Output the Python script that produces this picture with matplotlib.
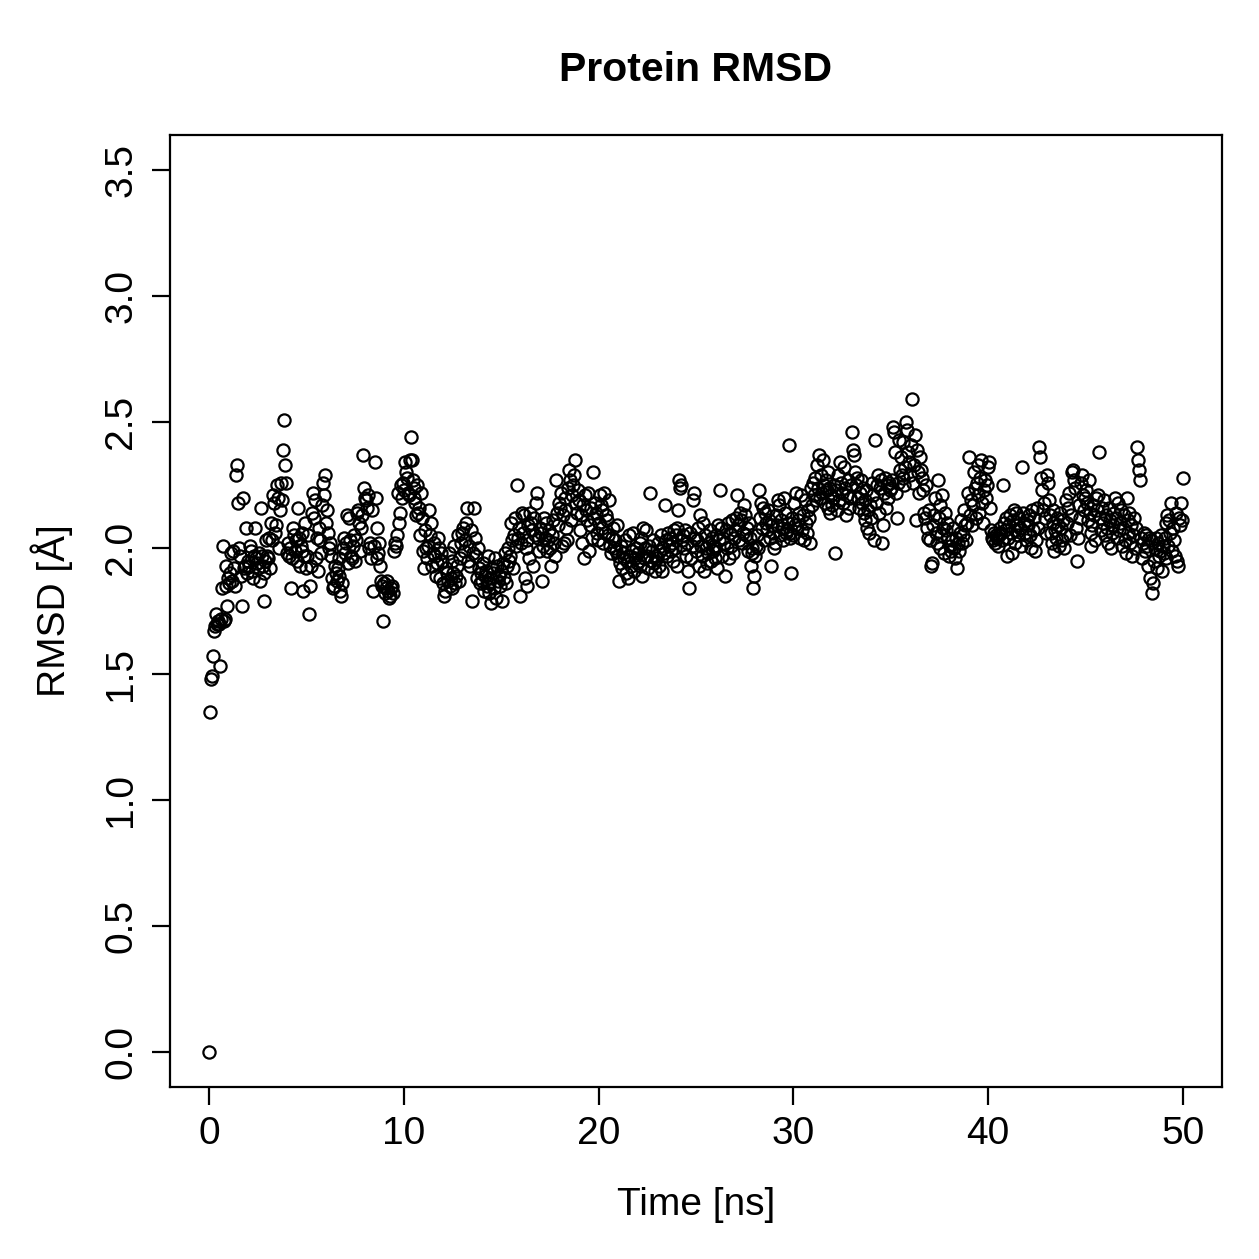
import numpy as np
import matplotlib
matplotlib.use("Agg")
import matplotlib.pyplot as plt

plt.rcParams['font.family'] = ['Liberation Sans', 'DejaVu Sans']

# RMSD values, one row per nanosecond (0.05 ns steps)
rmsd_rows = [
    [0.00, 1.35, 1.48, 1.49, 1.57, 1.67, 1.69, 1.74, 1.70, 1.71, 1.70, 1.53, 1.72, 1.84, 2.01, 1.71, 1.72, 1.93, 1.85, 1.77],
    [1.88, 1.86, 1.90, 1.98, 1.87, 1.99, 1.92, 1.85, 2.29, 2.33, 2.18, 2.00, 1.97, 1.89, 1.77, 2.20, 1.92, 1.93, 2.08, 1.90],
    [1.95, 1.93, 2.01, 1.99, 1.91, 1.88, 1.97, 2.08, 1.96, 1.94, 1.92, 1.98, 1.87, 2.16, 1.97, 1.93, 1.79, 1.90, 1.95, 2.03],
    [1.97, 1.96, 2.04, 1.92, 2.10, 2.03, 2.21, 2.18, 2.06, 2.09, 2.25, 2.20, 2.00, 2.15, 2.26, 2.19, 2.39, 2.51, 2.33, 2.26],
    [1.98, 2.02, 1.97, 2.00, 1.84, 1.96, 2.08, 2.05, 1.99, 2.03, 1.95, 2.16, 2.04, 1.93, 2.01, 2.06, 1.99, 1.83, 1.97, 2.10],
    [1.92, 1.97, 2.05, 1.74, 1.85, 1.93, 2.14, 2.22, 2.12, 2.19, 1.96, 2.04, 1.91, 2.08, 2.03, 1.98, 2.17, 2.26, 2.21, 2.29],
    [2.10, 2.15, 2.06, 2.00, 2.02, 1.97, 1.88, 1.84, 1.85, 1.93, 1.90, 1.87, 1.92, 1.96, 1.89, 1.83, 1.81, 1.86, 2.00, 2.04],
    [1.98, 2.02, 2.13, 1.94, 2.12, 2.03, 1.97, 1.96, 2.01, 2.05, 1.95, 2.03, 2.14, 2.15, 2.10, 1.99, 2.08, 2.13, 2.37, 2.24],
    [2.20, 2.19, 2.16, 2.21, 2.00, 2.02, 1.96, 2.15, 1.83, 2.01, 2.34, 2.20, 2.08, 1.96, 1.98, 2.02, 1.93, 1.87, 1.85, 1.71],
    [1.86, 1.82, 1.84, 1.87, 1.83, 1.80, 1.81, 1.84, 1.85, 1.82, 1.99, 2.02, 2.01, 2.05, 2.22, 2.10, 2.14, 2.25, 2.20, 2.26],
    [2.23, 2.34, 2.30, 2.28, 2.22, 2.21, 2.35, 2.44, 2.35, 2.27, 2.24, 2.20, 2.18, 2.13, 2.25, 2.14, 2.16, 2.05, 2.22, 2.12],
    [1.99, 1.92, 2.07, 2.00, 1.96, 2.01, 2.15, 2.05, 2.10, 1.93, 1.98, 2.02, 1.97, 1.89, 1.94, 2.04, 2.00, 1.88, 1.98, 1.95],
    [1.86, 1.81, 1.83, 1.92, 1.90, 1.87, 1.98, 1.85, 1.88, 1.95, 1.84, 1.90, 2.01, 1.86, 1.89, 1.93, 2.05, 1.87, 1.96, 2.02],
    [2.06, 2.08, 1.99, 2.03, 2.10, 2.16, 1.95, 2.01, 1.93, 2.07, 1.79, 1.98, 2.16, 2.04, 1.97, 1.88, 2.00, 1.92, 1.86, 1.90],
    [1.87, 1.94, 1.83, 1.89, 1.91, 1.85, 1.97, 1.82, 1.86, 1.88, 1.78, 1.92, 1.90, 1.84, 1.96, 1.80, 1.93, 1.87, 1.89, 1.85],
    [1.91, 1.79, 1.94, 1.88, 1.98, 1.86, 1.93, 2.00, 1.95, 1.97, 2.10, 2.03, 1.92, 2.05, 2.12, 2.01, 2.25, 2.04, 2.08, 1.81],
    [2.02, 2.14, 2.06, 2.13, 1.88, 2.00, 1.85, 2.03, 2.09, 1.96, 2.14, 2.10, 2.07, 1.93, 2.12, 2.05, 2.18, 2.22, 2.04, 1.99],
    [2.08, 2.06, 1.87, 2.01, 2.12, 2.04, 2.10, 1.99, 2.03, 2.07, 2.00, 1.93, 2.05, 2.11, 2.02, 1.97, 2.27, 2.14, 2.09, 2.18],
    [2.16, 2.22, 2.01, 2.13, 2.02, 2.20, 2.15, 2.08, 2.03, 2.24, 2.31, 2.27, 2.11, 2.21, 2.25, 2.29, 2.35, 2.18, 2.14, 2.23],
    [2.19, 2.07, 2.13, 2.02, 2.17, 1.96, 2.21, 2.15, 2.11, 2.22, 1.99, 2.09, 2.16, 2.04, 2.30, 2.12, 2.18, 2.14, 2.06, 2.03],
    [2.10, 2.21, 2.17, 2.08, 2.15, 2.02, 2.22, 2.06, 2.13, 2.11, 2.05, 2.19, 2.01, 1.98, 2.04, 2.08, 2.00, 2.03, 1.99, 2.09],
    [1.97, 1.87, 1.94, 2.01, 1.92, 1.98, 1.96, 2.03, 1.90, 1.95, 1.88, 2.05, 1.97, 1.93, 1.99, 2.06, 1.91, 1.96, 2.00, 1.94],
    [1.98, 1.95, 2.02, 1.93, 2.04, 1.89, 2.08, 1.96, 2.00, 2.07, 1.97, 1.92, 2.01, 2.22, 1.95, 1.99, 2.03, 1.94, 1.91, 1.97],
    [1.96, 2.02, 1.93, 1.99, 2.05, 1.91, 2.00, 1.98, 2.17, 2.03, 1.97, 2.06, 2.01, 2.04, 1.99, 2.02, 1.95, 2.07, 2.00, 2.05],
    [2.08, 1.93, 2.15, 2.27, 2.24, 2.25, 2.03, 2.05, 2.00, 2.07, 1.97, 2.02, 1.91, 1.84, 2.06, 1.96, 2.01, 2.19, 2.22, 2.04],
    [1.99, 2.03, 2.08, 1.93, 2.13, 2.01, 1.97, 2.10, 1.91, 2.05, 2.00, 1.94, 1.98, 2.02, 2.07, 1.95, 2.04, 1.99, 2.01, 1.96],
    [2.00, 2.05, 1.92, 2.09, 2.03, 2.23, 2.08, 1.97, 2.04, 2.02, 1.89, 2.07, 2.00, 2.10, 1.96, 2.06, 2.01, 2.11, 1.98, 2.04],
    [2.07, 2.12, 2.21, 2.09, 2.03, 2.14, 2.11, 2.02, 2.06, 2.17, 2.13, 2.05, 2.08, 1.99, 2.10, 2.04, 1.93, 2.00, 1.98, 1.84],
    [1.89, 1.97, 2.01, 2.05, 2.00, 2.23, 2.12, 2.18, 2.08, 2.16, 2.03, 2.14, 2.10, 2.07, 2.15, 2.11, 2.04, 1.93, 2.09, 2.06],
    [2.00, 2.02, 2.13, 2.09, 2.19, 2.17, 2.05, 2.11, 2.08, 2.03, 2.20, 2.14, 2.06, 2.07, 2.10, 2.41, 2.06, 2.04, 1.90, 2.12],
    [2.05, 2.18, 2.09, 2.22, 2.08, 2.11, 2.14, 2.04, 2.21, 2.07, 2.13, 2.03, 2.19, 2.10, 2.06, 2.15, 2.12, 2.02, 2.24, 2.17],
    [2.26, 2.21, 2.28, 2.19, 2.33, 2.24, 2.37, 2.20, 2.29, 2.22, 2.35, 2.25, 2.18, 2.27, 2.23, 2.16, 2.30, 2.24, 2.14, 2.21],
    [2.17, 2.20, 2.25, 1.98, 2.23, 2.15, 2.29, 2.19, 2.34, 2.26, 2.22, 2.18, 2.32, 2.24, 2.13, 2.21, 2.27, 2.16, 2.20, 2.25],
    [2.46, 2.39, 2.37, 2.30, 2.25, 2.28, 2.20, 2.16, 2.22, 2.27, 2.18, 2.24, 2.14, 2.19, 2.11, 2.23, 2.08, 2.15, 2.06, 2.17],
    [2.12, 2.26, 2.21, 2.03, 2.43, 2.18, 2.25, 2.29, 2.14, 2.24, 2.27, 2.02, 2.09, 2.22, 2.28, 2.16, 2.25, 2.20, 2.26, 2.23],
    [2.24, 2.27, 2.48, 2.46, 2.38, 2.22, 2.12, 2.26, 2.43, 2.31, 2.36, 2.29, 2.28, 2.42, 2.25, 2.32, 2.50, 2.47, 2.38, 2.34],
    [2.29, 2.41, 2.59, 2.26, 2.33, 2.45, 2.11, 2.39, 2.30, 2.22, 2.36, 2.31, 2.28, 2.23, 2.14, 2.12, 2.25, 2.08, 2.04, 2.15],
    [2.03, 1.93, 1.94, 2.09, 2.13, 2.20, 2.06, 2.02, 2.27, 2.12, 2.00, 2.17, 2.05, 2.21, 2.08, 1.98, 2.14, 2.07, 2.10, 2.04],
    [1.97, 2.01, 1.99, 2.03, 2.08, 2.00, 1.96, 2.04, 1.92, 2.02, 1.99, 2.06, 2.11, 2.02, 2.05, 2.15, 2.09, 2.03, 2.10, 2.22],
    [2.36, 2.13, 2.19, 2.09, 2.17, 2.30, 2.24, 2.12, 2.26, 2.33, 2.21, 2.14, 2.28, 2.35, 2.18, 2.10, 2.23, 2.27, 2.20, 2.25],
    [2.32, 2.34, 2.16, 2.07, 2.04, 2.03, 2.06, 2.02, 2.05, 2.04, 2.01, 2.05, 2.08, 2.06, 2.03, 2.25, 2.10, 2.07, 2.12, 1.97],
    [2.04, 2.09, 2.13, 2.06, 1.98, 2.11, 2.15, 2.07, 2.02, 2.14, 2.09, 2.05, 2.12, 2.08, 2.01, 2.32, 2.14, 2.10, 2.06, 2.03],
    [2.11, 2.09, 2.13, 2.05, 2.00, 2.15, 2.07, 2.12, 1.99, 2.03, 2.16, 2.08, 2.40, 2.36, 2.28, 2.23, 2.15, 2.18, 2.12, 2.06],
    [2.29, 2.26, 2.19, 2.13, 2.06, 2.02, 2.10, 2.15, 1.99, 2.07, 2.04, 2.12, 2.09, 2.01, 2.14, 2.08, 2.03, 2.11, 2.00, 2.05],
    [2.19, 2.10, 2.16, 2.22, 2.05, 2.13, 2.30, 2.31, 2.27, 2.24, 2.08, 1.95, 2.04, 2.17, 2.12, 2.26, 2.29, 2.21, 2.15, 2.20],
    [2.23, 2.18, 2.11, 2.27, 2.14, 2.06, 2.01, 2.09, 2.17, 2.13, 2.03, 2.20, 2.15, 2.21, 2.38, 2.12, 2.07, 2.16, 2.10, 2.19],
    [2.05, 2.13, 2.08, 2.02, 2.16, 2.11, 2.00, 2.06, 2.09, 2.14, 2.20, 2.12, 2.04, 2.18, 2.07, 2.10, 2.15, 2.01, 2.08, 2.13],
    [2.03, 1.98, 2.20, 2.11, 2.06, 2.14, 2.02, 2.09, 1.97, 2.05, 2.12, 2.00, 2.08, 2.40, 2.35, 2.31, 2.27, 2.04, 1.96, 2.02],
    [2.06, 1.99, 2.05, 2.01, 1.93, 2.04, 1.88, 2.03, 1.82, 1.86, 1.95, 2.00, 2.04, 1.92, 2.02, 1.97, 1.99, 2.05, 1.91, 2.01],
    [1.98, 2.04, 2.10, 1.96, 2.13, 2.01, 2.11, 2.06, 2.18, 1.99, 2.08, 2.03, 1.97, 2.14, 1.95, 1.93, 2.12, 2.09, 2.18, 2.11],
    [2.28],
]
rmsd = [v for row in rmsd_rows for v in row]
time_ns = [i * 0.05 for i in range(len(rmsd))]

x_ticks = [0, 10, 20, 30, 40, 50]
y_ticks = [0.0, 0.5, 1.0, 1.5, 2.0, 2.5, 3.0, 3.5]
y_ticklabels = ["0.0", "0.5", "1.0", "1.5", "2.0", "2.5", "3.0", "3.5"]

fig = plt.figure(figsize=(12.59, 12.59), dpi=100)
ax = fig.add_axes([170 / 1259, 1 - 1087 / 1259, (1222 - 170) / 1259, (1087 - 135) / 1259])

ax.plot(time_ns, rmsd, linestyle='none', marker='o', markersize=8.8,
        markerfacecolor='none', markeredgecolor='black', markeredgewidth=1.6)

ax.set_xlim(-2, 52)
ax.set_ylim(-0.14, 3.64)
ax.set_xticks(x_ticks)
ax.set_yticks(y_ticks)
ax.set_yticklabels(y_ticklabels, rotation=90, va='center')
ax.tick_params(axis='both', direction='out', length=13, width=1.6, labelsize=28, colors='black')
ax.tick_params(axis='x', pad=8)
ax.tick_params(axis='y', pad=9)
for s in ax.spines.values():
    s.set_linewidth(1.6)

ax.set_xlabel("Time [ns]", fontsize=28, labelpad=25)
ax.set_ylabel("RMSD [Å]", fontsize=28, labelpad=22)
fig.text(696 / 1259, 1 - 70 / 1259, "Protein RMSD", ha='center', va='center',
         fontsize=29.5, fontweight='bold')

fig.savefig("out.png", dpi=100)
